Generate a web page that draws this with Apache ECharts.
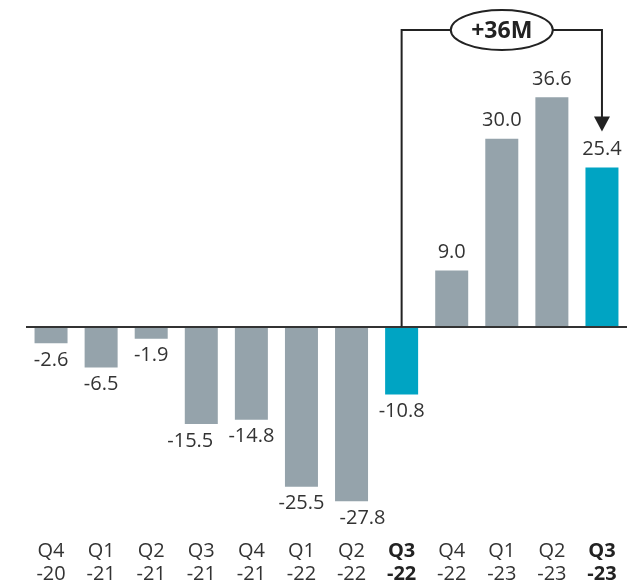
<!DOCTYPE html>
<html><head><meta charset="utf-8">
<script src="https://cdn.jsdelivr.net/npm/echarts@6/dist/echarts.min.js"></script>
<style>html,body{margin:0;padding:0;background:#fff}#c{width:631px;height:587px}</style>
</head><body><div id="c"></div>
<script>
const categories = ['Q4\n-20','Q1\n-21','Q2\n-21','Q3\n-21','Q4\n-21','Q1\n-22','Q2\n-22','Q3\n-22','Q4\n-22','Q1\n-23','Q2\n-23','Q3\n-23'];
const values = [-2.6,-6.5,-1.9,-15.5,-14.8,-25.5,-27.8,-10.8,9.0,30.0,36.6,25.4];
const highlighted = [7, 11];
const deltaLabel = '+36M';
const labelShift = {3: -11, 6: 11};
const FONT = '"Open Sans", sans-serif';
const GRAY = '#95a3ab', TEAL = '#00a4c3', TXT = '#333';

const chart = echarts.init(document.getElementById('c'));
chart.setOption({
  animation: false,
  grid: {left: 26, right: 4, top: 76, bottom: 72},
  xAxis: {
    type: 'category', data: categories,
    axisLine: {show: false}, axisTick: {show: false},
    axisLabel: {
      margin: 25, interval: 0,
      formatter: (v, i) => {
        const k = highlighted.includes(i) ? 'b' : 'n';
        return v.split('\n').map(s => '{' + k + '|' + s + '}').join('\n');
      },
      rich: {
        n: {fontFamily: FONT, fontSize: 20, color: TXT, lineHeight: 23},
        b: {fontFamily: FONT, fontSize: 20, color: '#222', fontWeight: 'bold', lineHeight: 23}
      }
    }
  },
  yAxis: {type: 'value', min: -30, max: 40, show: false, splitLine: {show: false}},
  series: [{
    type: 'bar', barWidth: 33,
    data: values.map((v, i) => ({
      value: v,
      itemStyle: {color: highlighted.includes(i) ? TEAL : GRAY},
      label: {position: v < 0 ? 'bottom' : 'top', distance: v < 0 ? 7 : 8, offset: [labelShift[i] || 0, 0]}
    })),
    label: {show: true, fontFamily: FONT, fontSize: 20, color: TXT, formatter: p => p.value.toFixed(1)},
    markLine: {
      silent: true, symbol: 'none', label: {show: false},
      lineStyle: {color: '#333', width: 2, type: 'solid'},
      data: [{yAxis: 0}]
    }
  }]
});

// annotation bracket from highlighted bar 1 to highlighted bar 2
const x1 = chart.convertToPixel({xAxisIndex: 0}, highlighted[0]);
const x2 = chart.convertToPixel({xAxisIndex: 0}, highlighted[1]);
const y0 = chart.convertToPixel({yAxisIndex: 0}, 0);
const yEnd = chart.convertToPixel({yAxisIndex: 0}, values[highlighted[1]]) - 36;
const yTop = 30;
const cx = (x1 + x2) / 2;
const LS = {stroke: '#222', lineWidth: 2, fill: null};
chart.setOption({
  graphic: [
    {type: 'polyline', shape: {points: [[x1, y0], [x1, yTop], [cx - 51, yTop]]}, style: LS, z: 10},
    {type: 'polyline', shape: {points: [[cx + 51, yTop], [x2, yTop], [x2, yEnd - 14]]}, style: LS, z: 10},
    {type: 'polygon', shape: {points: [[x2 - 8, yEnd - 15], [x2 + 8, yEnd - 15], [x2, yEnd]]}, style: {fill: '#222'}, z: 10},
    {type: 'ellipse', shape: {cx: cx, cy: yTop, rx: 51, ry: 20}, style: {stroke: '#222', lineWidth: 2, fill: '#fff'}, z: 10},
    {type: 'text', x: cx, y: yTop + 1, style: {text: deltaLabel, font: 'bold 23px ' + FONT, fill: '#222', align: 'center', verticalAlign: 'middle'}, z: 11}
  ]
});
</script></body></html>
